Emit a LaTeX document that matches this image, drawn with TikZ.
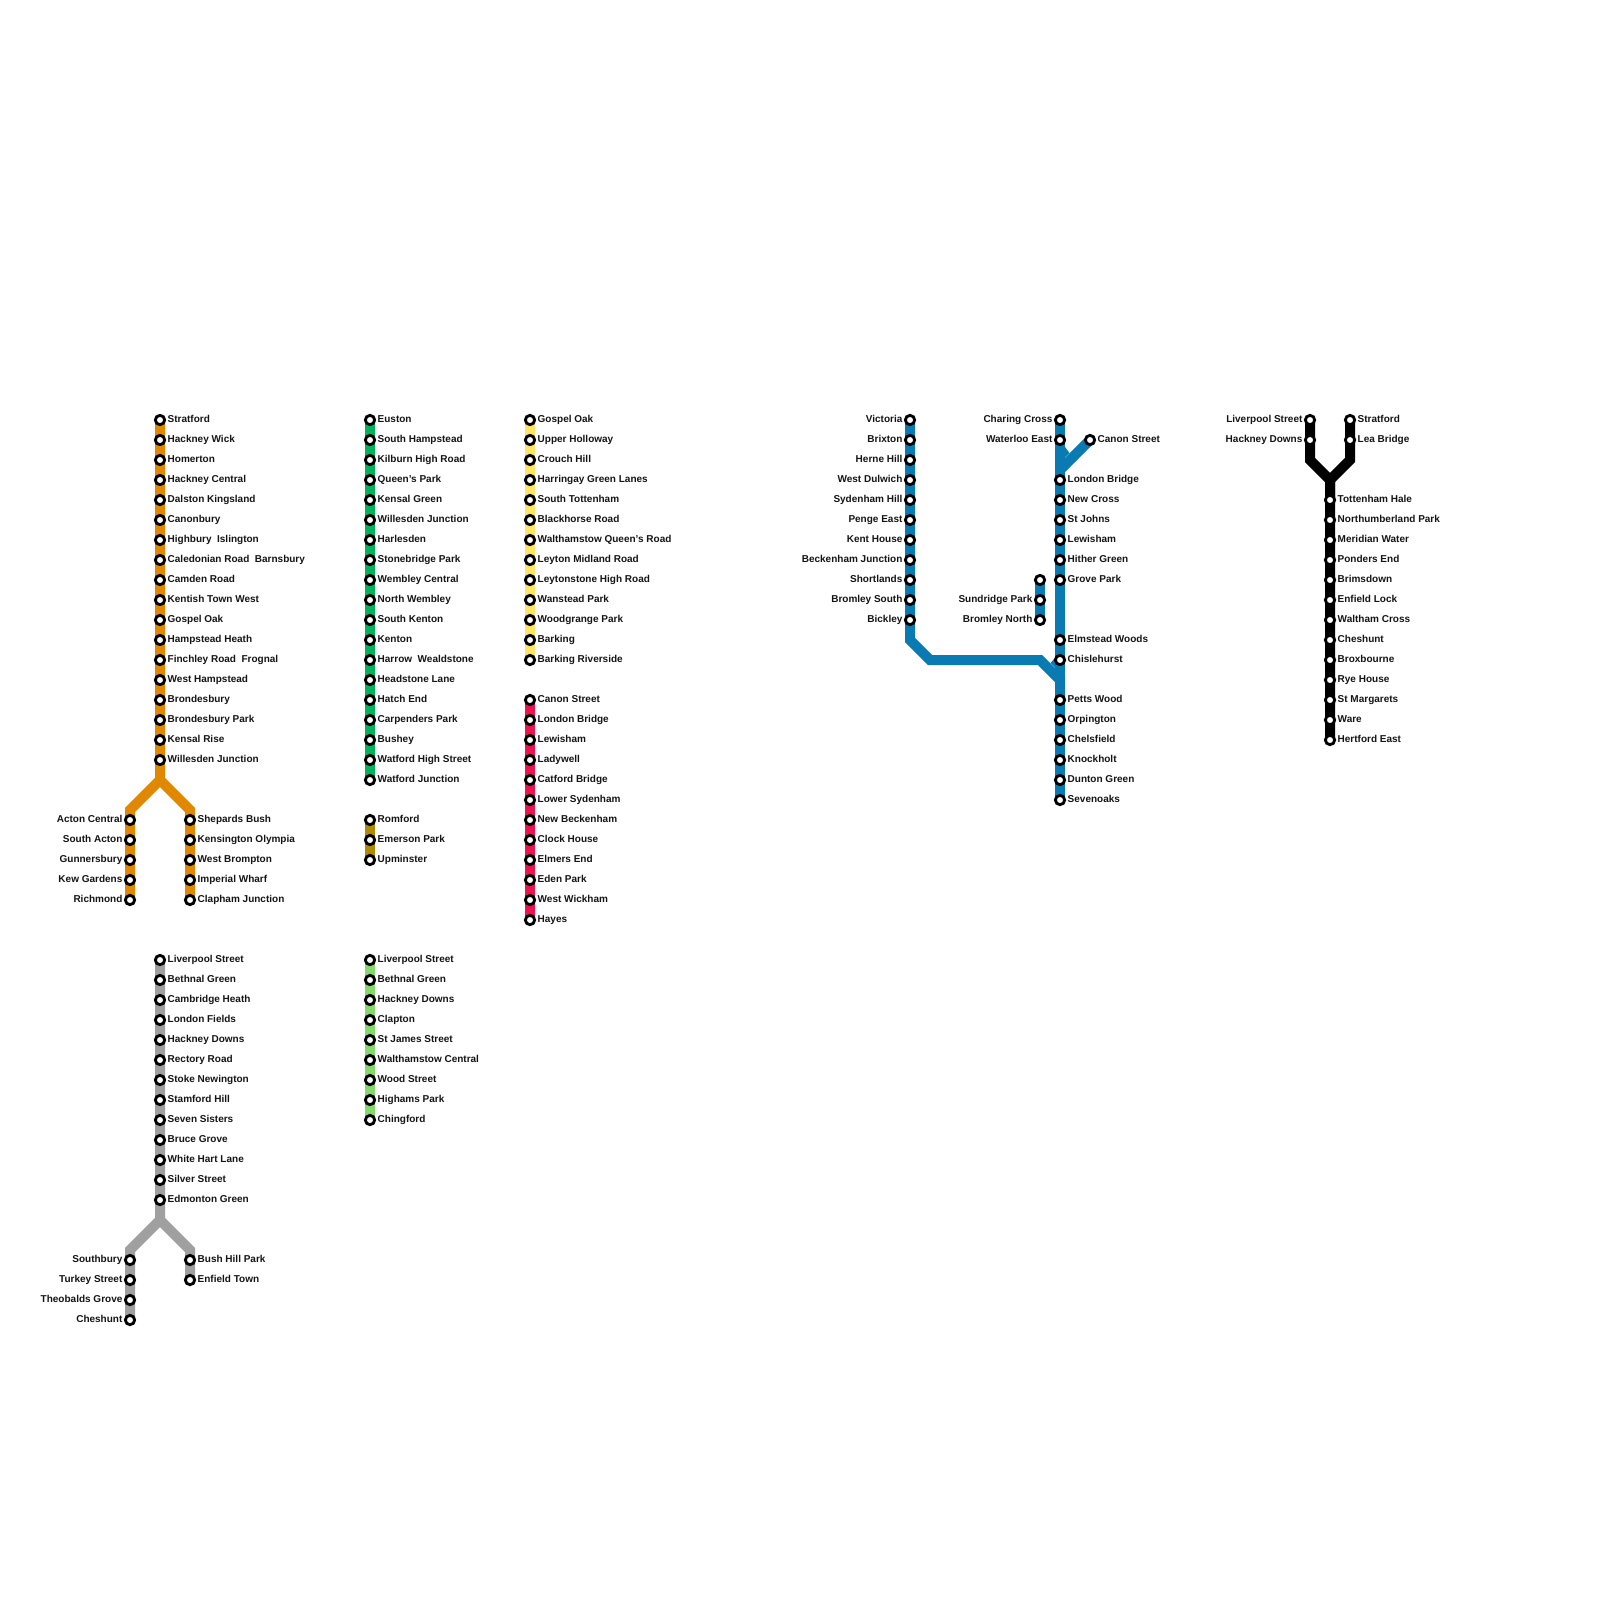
\documentclass[tikz,border=0pt]{standalone}
\usepackage{fontspec}
\setmainfont{Liberation Sans}
\pgfdeclarelayer{tracks}
\pgfsetlayers{tracks,main}
\definecolor{cOrange}{HTML}{E08900}
\definecolor{cGreen}{HTML}{00B25A}
\definecolor{cBrown}{HTML}{B08A00}
\definecolor{cYellow}{HTML}{FFE566}
\definecolor{cRed}{HTML}{EB1450}
\definecolor{cGrey}{HTML}{A0A0A0}
\definecolor{cLime}{HTML}{85D96B}
\definecolor{cBlue}{HTML}{0A7AB2}
\tikzset{
  stationdot/.style={circle,draw=black,fill=white,line width=2.85pt,minimum size=9.3pt,inner sep=0pt,outer sep=0pt},
  namelabel/.style={font=\bfseries\fontsize{10}{12}\selectfont,inner sep=0pt,outer sep=0pt,text=black!92},
  track/.style={line width=10pt,line join=miter,line cap=butt}
}
% #1 prefix, #2 x, #3 first y, #4 names : labels to the right
\newcommand{\rightstops}[4]{%
  \foreach \nm [count=\k from 0] in {#4}{%
    \pgfmathsetmacro{\yy}{#3+20*\k}%
    \node[stationdot] (#1-\k) at (#2,\yy) {};
    \node[namelabel,anchor=base west] (#1-\k-t) at ([xshift=7.7pt,yshift=-2.9pt]#1-\k.center) {\nm};
  }}
\newcommand{\leftstops}[4]{%
  \foreach \nm [count=\k from 0] in {#4}{%
    \pgfmathsetmacro{\yy}{#3+20*\k}%
    \node[stationdot] (#1-\k) at (#2,\yy) {};
    \node[namelabel,anchor=base east] (#1-\k-t) at ([xshift=-7.6pt,yshift=-2.9pt]#1-\k.center) {\nm};
  }}
\begin{document}
\begin{tikzpicture}[x=1pt,y=-1pt]
\useasboundingbox (0,0) rectangle (1600,1600);
% Orange
\rightstops{or}{160}{420}{Stratford,Hackney Wick,Homerton,Hackney Central,Dalston Kingsland,Canonbury,Highbury\ \ Islington,Caledonian Road\ \ Barnsbury,Camden Road,Kentish Town West,Gospel Oak,Hampstead Heath,Finchley Road\ \ Frognal,West Hampstead,Brondesbury,Brondesbury Park,Kensal Rise,Willesden Junction}
\leftstops{orl}{130}{820}{Acton Central,South Acton,Gunnersbury,Kew Gardens,Richmond}
\rightstops{orr}{190}{820}{Shepards Bush,Kensington Olympia,West Brompton,Imperial Wharf,Clapham Junction}
\coordinate (orJ) at (160,780);
\coordinate (orLb) at (130,810);
\coordinate (orRb) at (190,810);
% Green, brown
\rightstops{gr}{370}{420}{Euston,South Hampstead,Kilburn High Road,Queen’s Park,Kensal Green,Willesden Junction,Harlesden,Stonebridge Park,Wembley Central,North Wembley,South Kenton,Kenton,Harrow\ \ Wealdstone,Headstone Lane,Hatch End,Carpenders Park,Bushey,Watford High Street,Watford Junction}
\rightstops{br}{370}{820}{Romford,Emerson Park,Upminster}
% Yellow, red
\rightstops{ye}{530}{420}{Gospel Oak,Upper Holloway,Crouch Hill,Harringay Green Lanes,South Tottenham,Blackhorse Road,Walthamstow Queen’s Road,Leyton Midland Road,Leytonstone High Road,Wanstead Park,Woodgrange Park,Barking,Barking Riverside}
\rightstops{re}{530}{700}{Canon Street,London Bridge,Lewisham,Ladywell,Catford Bridge,Lower Sydenham,New Beckenham,Clock House,Elmers End,Eden Park,West Wickham,Hayes}
% Grey
\rightstops{gy}{160}{960}{Liverpool Street,Bethnal Green,Cambridge Heath,London Fields,Hackney Downs,Rectory Road,Stoke Newington,Stamford Hill,Seven Sisters,Bruce Grove,White Hart Lane,Silver Street,Edmonton Green}
\leftstops{gyl}{130}{1260}{Southbury,Turkey Street,Theobalds Grove,Cheshunt}
\rightstops{gyr}{190}{1260}{Bush Hill Park,Enfield Town}
\coordinate (gyJ) at (160,1220);
\coordinate (gyLb) at (130,1250);
\coordinate (gyRb) at (190,1250);
% Lime
\rightstops{li}{370}{960}{Liverpool Street,Bethnal Green,Hackney Downs,Clapton,St James Street,Walthamstow Central,Wood Street,Highams Park,Chingford}
% Blue
\leftstops{vi}{910}{420}{Victoria,Brixton,Herne Hill,West Dulwich,Sydenham Hill,Penge East,Kent House,Beckenham Junction,Shortlands,Bromley South,Bickley}
\leftstops{ch}{1060}{420}{Charing Cross,Waterloo East}
\rightstops{lb}{1060}{480}{London Bridge,New Cross,St Johns,Lewisham,Hither Green,Grove Park}
\rightstops{el}{1060}{640}{Elmstead Woods,Chislehurst}
\rightstops{pw}{1060}{700}{Petts Wood,Orpington,Chelsfield,Knockholt,Dunton Green,Sevenoaks}
\node[stationdot] (gp) at (1040,580) {};
\leftstops{sp}{1040}{600}{Sundridge Park,Bromley North}
\rightstops{cs}{1090}{440}{Canon Street}
\coordinate (csB) at (1060,470);
\coordinate (viA) at (910,640);
\coordinate (viB) at (930,660);
\coordinate (viC) at (1040,660);
\coordinate (viD) at (1060,680);
\coordinate (na) at (1065,447);
\coordinate (nb) at (1069.5,453);
\coordinate (nc) at (1060,462);
\coordinate (nd) at (1055,658);
\coordinate (ne) at (1050.5,663);
\coordinate (nf) at (1060,672);
% Black
\leftstops{lv}{1310}{420}{Liverpool Street,Hackney Downs}
\rightstops{st}{1350}{420}{Stratford,Lea Bridge}
\rightstops{to}{1330}{500}{Tottenham Hale,Northumberland Park,Meridian Water,Ponders End,Brimsdown,Enfield Lock,Waltham Cross,Cheshunt,Broxbourne,Rye House,St Margarets,Ware,Hertford East}
\coordinate (bkJ) at (1330,480);
\coordinate (bkL) at (1310,460);
\coordinate (bkR) at (1350,460);
\begin{pgfonlayer}{tracks}
\draw[track,cOrange] (or-0.center) -- (orJ) -- (orLb) -- (orl-4.center);
\draw[track,cOrange] (orJ) -- (orRb) -- (orr-4.center);
\draw[track,cGreen] (gr-0.center) -- (gr-18.center);
\draw[track,cBrown] (br-0.center) -- (br-2.center);
\draw[track,cYellow] (ye-0.center) -- (ye-12.center);
\draw[track,cRed] (re-0.center) -- (re-11.center);
\draw[track,cGrey] (gy-0.center) -- (gyJ) -- (gyLb) -- (gyl-3.center);
\draw[track,cGrey] (gyJ) -- (gyRb) -- (gyr-1.center);
\draw[track,cLime] (li-0.center) -- (li-8.center);
\draw[track,cBlue] (ch-0.center) -- (pw-5.center);
\draw[track,cBlue] (cs-0.center) -- (csB) -- (lb-0.center);
\draw[track,cBlue] (vi-0.center) -- (viA) -- (viB) -- (viC) -- (viD) -- (pw-0.center);
\draw[track,cBlue] (gp.center) -- (sp-1.center);
\fill[cBlue] (na) -- (nb) -- (nc) -- cycle;
\fill[cBlue] (nd) -- (ne) -- (nf) -- cycle;
\draw[track,black] (lv-0.center) -- (bkL) -- (bkJ) -- (to-12.center);
\draw[track,black] (st-0.center) -- (bkR) -- (bkJ) -- (to-0.center);
\end{pgfonlayer}
\end{tikzpicture}
\end{document}
